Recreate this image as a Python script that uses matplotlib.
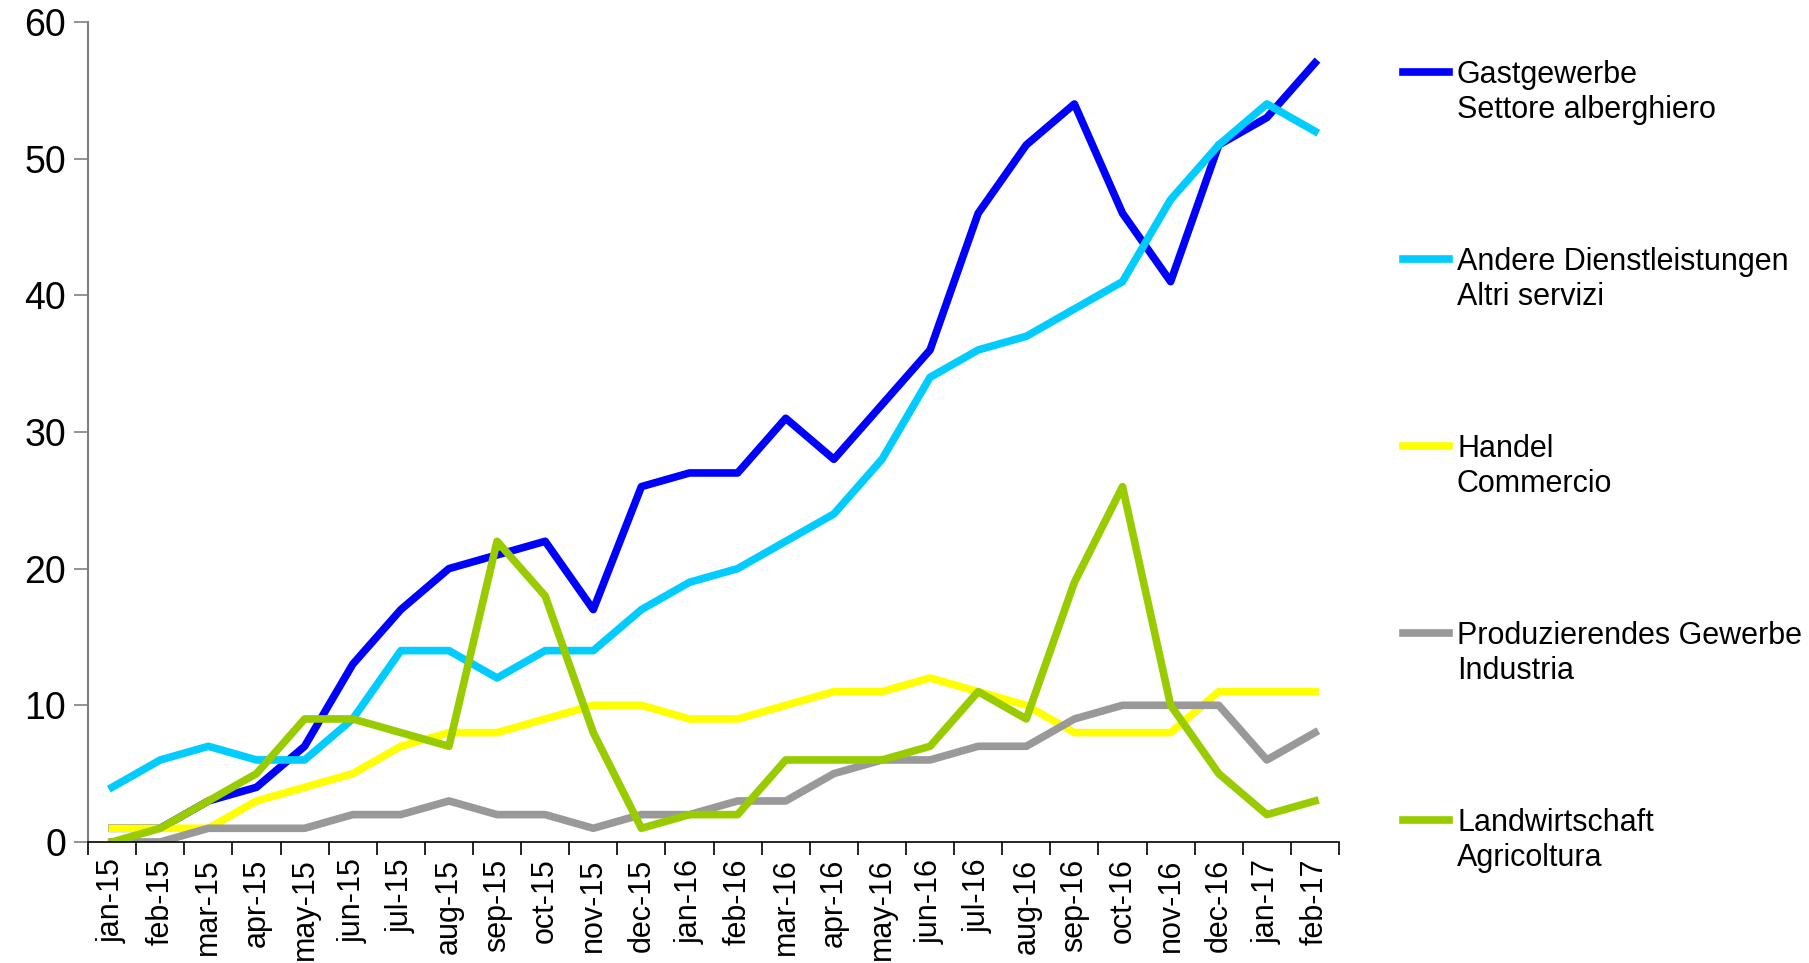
import matplotlib
matplotlib.use("Agg")
import matplotlib.pyplot as plt
from matplotlib.lines import Line2D
from matplotlib.ticker import FixedLocator

plt.rcParams['font.family'] = ['Liberation Sans', 'DejaVu Sans']

months = ['jan-15', 'feb-15', 'mar-15', 'apr-15', 'may-15', 'jun-15', 'jul-15',
          'aug-15', 'sep-15', 'oct-15', 'nov-15', 'dec-15', 'jan-16', 'feb-16',
          'mar-16', 'apr-16', 'may-16', 'jun-16', 'jul-16', 'aug-16', 'sep-16',
          'oct-16', 'nov-16', 'dec-16', 'jan-17', 'feb-17']

gastgewerbe = [1, 1, 3, 4, 7, 13, 17, 20, 21, 22, 17, 26, 27, 27, 31, 28, 32, 36,
               46, 51, 54, 46, 41, 51, 53, 57]
andere = [4, 6, 7, 6, 6, 9, 14, 14, 12, 14, 14, 17, 19, 20, 22, 24, 28, 34,
          36, 37, 39, 41, 47, 51, 54, 52]
handel = [1, 1, 1, 3, 4, 5, 7, 8, 8, 9, 10, 10, 9, 9, 10, 11, 11, 12,
          11, 10, 8, 8, 8, 11, 11, 11]
produzierend = [0, 0, 1, 1, 1, 2, 2, 3, 2, 2, 1, 2, 2, 3, 3, 5, 6, 6,
                7, 7, 9, 10, 10, 10, 6, 8]
landwirtschaft = [0, 1, 3, 5, 9, 9, 8, 7, 22, 18, 8, 1, 2, 2, 6, 6, 6, 7,
                  11, 9, 19, 26, 10, 5, 2, 3]

series = [
  ('Gastgewerbe', 'Settore alberghiero', gastgewerbe, '#0000FF'),
  ('Andere Dienstleistungen', 'Altri servizi', andere, '#00CCFF'),
  ('Handel', 'Commercio', handel, '#FFFF00'),
  ('Produzierendes Gewerbe', 'Industria', produzierend, '#999999'),
  ('Landwirtschaft', 'Agricoltura', landwirtschaft, '#99CC00'),
]

fig = plt.figure(figsize=(18.09, 9.63), dpi=100)
ax = fig.add_axes([0.0487, 0.1257, 0.6915, 0.8515])

x = list(range(len(months)))
for de, it, values, color in series:
  ax.plot(x, values, color=color, linewidth=5.5)

ax.set_xlim(-0.5, len(months) - 0.5)
ax.set_ylim(0, 60)
ax.set_yticks(range(0, 61, 10))
ax.set_xticks(x)
ax.set_xticklabels(months, rotation=90)
ax.xaxis.set_minor_locator(FixedLocator([i - 0.5 for i in range(len(months) + 1)]))

ax.tick_params(axis='y', labelsize=27, length=10, width=1.2, color='#808080', pad=6)
ax.tick_params(axis='x', which='major', labelsize=22, length=0, pad=12)
ax.tick_params(axis='x', which='minor', length=9, width=1.2, color='black')

for side in ('top', 'right'):
  ax.spines[side].set_visible(False)
ax.spines['left'].set_color('#808080')
ax.spines['left'].set_linewidth(1.5)
ax.spines['bottom'].set_color('black')
ax.spines['bottom'].set_linewidth(1.2)

# legend drawn by hand so the key sits on the first text line
top = 1 - 72 / 963
step = 187 / 963
for i, (de, it, values, color) in enumerate(series):
  y = top - i * step
  fig.add_artist(Line2D([1403 / 1809, 1449 / 1809], [y, y], color=color,
                        linewidth=5.5, transform=fig.transFigure))
  fig.text(1457 / 1809, y + 12 / 963, de + '\n' + it, fontsize=22, va='top',
           linespacing=1.2, transform=fig.transFigure)

fig.savefig('out.png', dpi=100)
